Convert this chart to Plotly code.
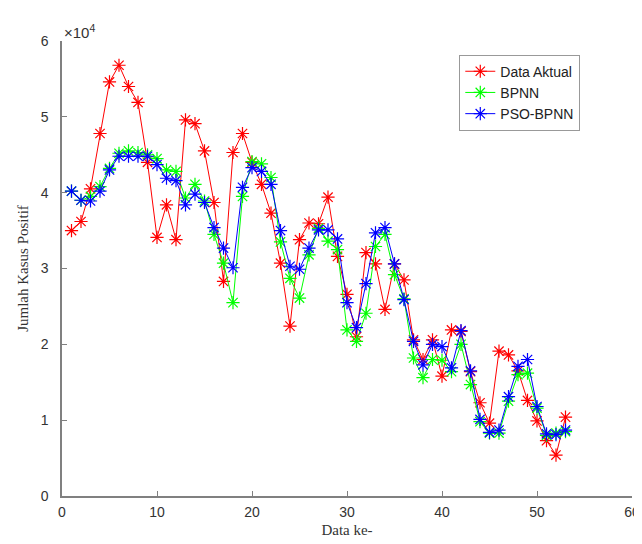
import plotly.graph_objects as go

x_idx = list(range(1, 54))

data_aktual = [35000, 36200, 40500, 47800, 54600, 56800, 54000, 51900, 44000, 34100,
               38400, 33800, 49600, 49100, 45500, 38700, 28300, 45300, 47800, 44000,
               41100, 37300, 30700, 22400, 33800, 36000, 35900, 39400, 31600, 26600,
               21000, 32100, 30600, 24600, 30600, 28500, 20600, 18000, 20600, 15800,
               21900, 21700, 16400, 12300, 9600, 19100, 18600, 16500, 12600, 9900,
               7300, 5400, 10400]

bpnn = [40200, 39000, 39500, 40800, 43200, 45200, 45500, 45300, 45000, 44500,
        43000, 42800, 39300, 41100, 38900, 34500, 30700, 25500, 39500, 44100,
        43800, 42000, 33500, 28700, 26100, 31800, 35300, 33600, 32500, 21900,
        20400, 24100, 32900, 34500, 29200, 26000, 18200, 15600, 18000, 17900,
        16400, 20000, 14700, 9800, 8300, 8300, 12500, 16000, 16200, 11600,
        8000, 8300, 8500]

pso_bpnn = [40200, 39000, 38900, 40200, 43000, 44800, 44800, 44800, 44800, 43700,
            41900, 41600, 38400, 39800, 38700, 35400, 32700, 30100, 40700, 43300,
            42800, 41100, 35000, 30300, 29900, 32700, 35100, 35100, 33900, 25500,
            22200, 28000, 34700, 35400, 30600, 25900, 20400, 17300, 20000, 19700,
            16900, 21800, 16500, 10100, 8400, 8700, 13100, 17100, 18000, 11800,
            8200, 8100, 8700]

series_names = ["Data Aktual", "BPNN", "PSO-BPNN"]
series_colors = ["#ff0000", "#00ff00", "#0000ff"]
x_ticks = [0, 10, 20, 30, 40, 50, 60]
y_ticks = [0, 10000, 20000, 30000, 40000, 50000, 60000]
y_ticktext = ["0", "1", "2", "3", "4", "5", "6"]

fig = go.Figure()
for name, vals, col in zip(series_names, [data_aktual, bpnn, pso_bpnn], series_colors):
    fig.add_trace(go.Scatter(
        x=x_idx, y=vals, name=name, mode="lines+markers",
        line=dict(color=col, width=1),
        marker=dict(symbol="asterisk-open", size=11, color=col,
                    line=dict(color=col, width=1.2)),
    ))

axis_col = "#808080"
tick_font = dict(family="Liberation Sans, Arial, sans-serif", size=14, color="#333333")
title_font = dict(family="Liberation Serif, Times New Roman, serif", size=15, color="#333333")

fig.update_layout(
    width=642, height=544,
    margin=dict(l=54, r=10, t=33, b=56),
    paper_bgcolor="white", plot_bgcolor="white",
    showlegend=True,
    legend=dict(
        x=0.697, y=0.97, xanchor="left", yanchor="top",
        bgcolor="white", bordercolor="#999999", borderwidth=1,
        font=dict(family="Liberation Sans, Arial, sans-serif", size=14, color="#222222"),
        tracegroupgap=0,
    ),
    xaxis=dict(
        range=[0, 60], tickvals=x_ticks, ticks="inside", ticklen=5,
        tickcolor=axis_col, showline=True, linecolor=axis_col, linewidth=1.5,
        showgrid=False, zeroline=False, tickfont=tick_font, ticklabelstandoff=2,
        title=dict(text="Data ke-", font=title_font, standoff=6),
    ),
    yaxis=dict(
        range=[0, 60000], tickvals=y_ticks, ticktext=y_ticktext,
        ticks="inside", ticklen=5, ticklabelstandoff=9,
        tickcolor=axis_col, showline=True, linecolor=axis_col, linewidth=1.5,
        showgrid=False, zeroline=False, tickfont=tick_font,
        title=dict(text="Jumlah Kasus Positif", font=title_font, standoff=8),
    ),
)

fig.add_annotation(
    x=0, y=1, xref="paper", yref="paper", xanchor="left", yanchor="bottom",
    text="×10<sup>4</sup>", showarrow=False, yshift=-2, xshift=0,
    font=dict(family="Liberation Sans, Arial, sans-serif", size=15, color="#333333"),
)

fig.write_html("out.html")
